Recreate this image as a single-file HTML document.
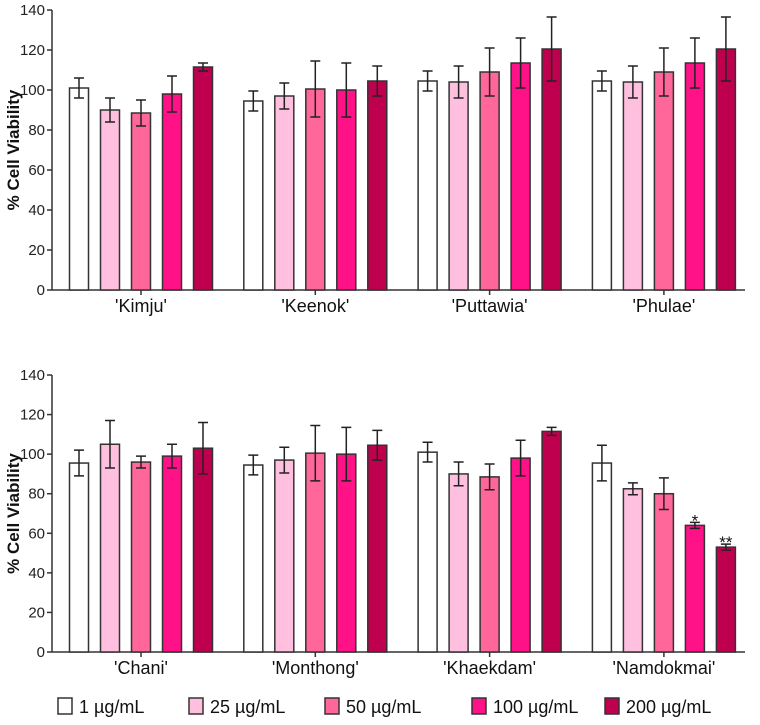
<!DOCTYPE html>
<html><head><meta charset="utf-8"><style>
body{margin:0;background:#fff;width:760px;height:720px;overflow:hidden;font-family:"Liberation Sans",Arial,sans-serif}
svg text{font-family:"Liberation Sans",Arial,sans-serif}
</style></head><body>
<svg id="c" width="760" height="720"></svg>
<script>
const categoriesTop=["'Kimju'","'Keenok'","'Puttawia'","'Phulae'"];
const categoriesBottom=["'Chani'","'Monthong'","'Khaekdam'","'Namdokmai'"];
const seriesNames=["1 µg/mL","25 µg/mL","50 µg/mL","100 µg/mL","200 µg/mL"];
const valuesTop=[[101,90,88.5,98,111.5],[94.5,97,100.5,100,104.5],[104.5,104,109,113.5,120.5],[104.5,104,109,113.5,120.5]];
const errorsTop=[[5,6,6.5,9,2],[5,6.5,14,13.5,7.5],[5,8,12,12.5,16],[5,8,12,12.5,16]];
const valuesBottom=[[95.5,105,96,99,103],[94.5,97,100.5,100,104.5],[101,90,88.5,98,111.5],[95.5,82.5,80,64,53]];
const errorsBottom=[[6.5,12,3,6,13],[5,6.5,14,13.5,7.5],[5,6,6.5,9,2],[9,3,8,1.5,1.5]];
const sigBottom=[["","","","",""],["","","","",""],["","","","",""],["","","","*","**"]];
const yTicks=[0,20,40,60,80,100,120,140];
const colors=["#ffffff","#ffc0e0","#ff6699","#ff1188","#bf004f"];
const NS="http://www.w3.org/2000/svg";
const svg=document.getElementById('c');
function mk(t,a,p){const e=document.createElementNS(NS,t);for(const k in a)e.setAttribute(k,a[k]);(p||svg).appendChild(e);return e;}
function panel(name,y0,y140,cats,vals,errs,sigs){
  const g=mk('g',{});
  
  
  const yS=v=>y0+(y140-y0)*v/140;
  const xL=52,xR=745;
  const grp=i=>141+i*174.3;
  const bx=(i,j)=>grp(i)+(j-2)*31;
  mk('line',{x1:xL,y1:y0,x2:xR,y2:y0,stroke:'#333','stroke-width':1.5},g);
  mk('line',{x1:xL,y1:y0,x2:xL,y2:y140,stroke:'#333','stroke-width':1.5},g);
  yTicks.forEach(t=>{
    mk('line',{x1:xL-5,y1:yS(t),x2:xL,y2:yS(t),stroke:'#333','stroke-width':1.5},g);
    const tx=mk('text',{x:xL-7,y:yS(t)+5,'text-anchor':'end','font-size':15,fill:'#222'},g);tx.textContent=t;
    
    
  });
  const yt=mk('text',{x:0,y:0,'text-anchor':'middle','font-size':17,'font-weight':'bold',fill:'#111',transform:`translate(19,${(y0+y140)/2}) rotate(-90)`},g);
  yt.textContent='% Cell Viability';
  
  
  cats.forEach((c,i)=>{
    mk('line',{x1:grp(i),y1:y0,x2:grp(i),y2:y0+5,stroke:'#333','stroke-width':1.5},g);
    const t=mk('text',{x:grp(i),y:y0+22,'text-anchor':'middle','font-size':18,fill:'#111'},g);t.textContent=c;
    
    
    vals[i].forEach((v,j)=>{
      const x=bx(i,j),w=19;
      const r=mk('rect',{x:x-w/2,y:yS(v),width:w,height:y0-yS(v),fill:colors[j],stroke:'#333','stroke-width':1.5},g);
      
      
      const e=errs[i][j],yt1=yS(v+e),yb=yS(v-e);
      const eb=mk('path',{d:`M${x},${yt1}V${yb}M${x-5},${yt1}H${x+5}M${x-5},${yb}H${x+5}`,stroke:'#222','stroke-width':1.5,fill:'none'},g);
      
      
      if(sigs&&sigs[i][j]){const s=mk('text',{x:x,y:yt1+4,'text-anchor':'middle','font-size':17,fill:'#111'},g);s.textContent=sigs[i][j];
        
        }
    });
  });
}
panel('top-panel',290,10,categoriesTop,valuesTop,errorsTop,null);
panel('bottom-panel',652,375,categoriesBottom,valuesBottom,errorsBottom,sigBottom);
const legX=[58,189,325,472,605];
seriesNames.forEach((n,j)=>{
  const g=mk('g',{});
  
  
  mk('rect',{x:legX[j],y:698,width:14,height:16,fill:colors[j],stroke:'#333','stroke-width':1.5},g);
  const t=mk('text',{x:legX[j]+21,y:713,'font-size':18,fill:'#111'},g);t.textContent=n;
});
</script>
</body></html>
